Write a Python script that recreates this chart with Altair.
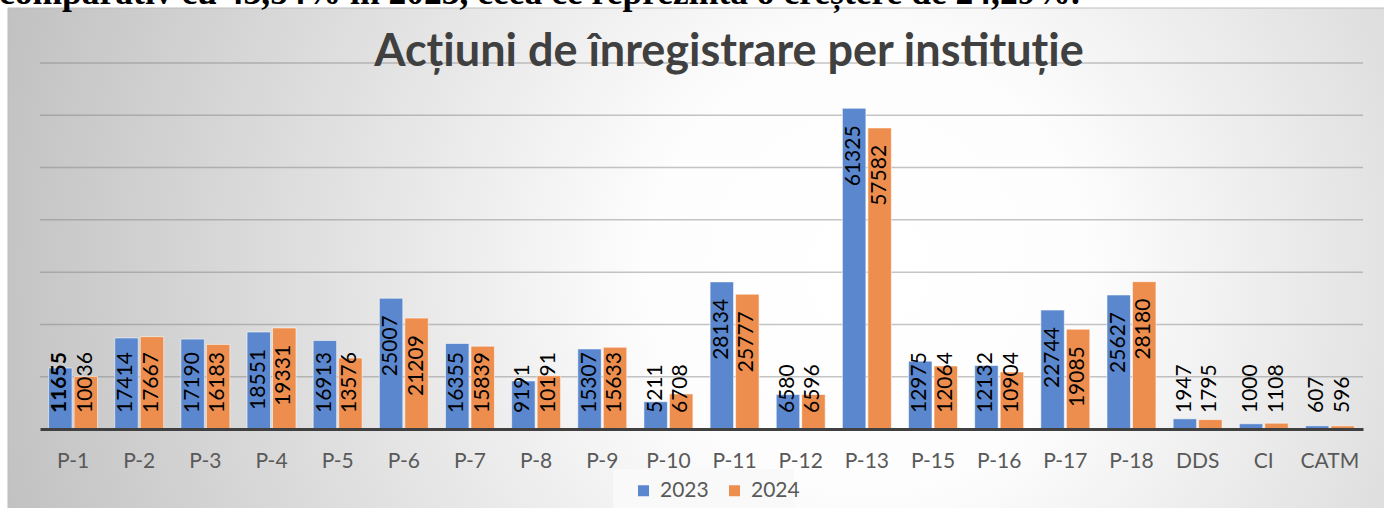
import altair as alt
import pandas as pd

# --- data ---------------------------------------------------------------
institutions = ["P-1", "P-2", "P-3", "P-4", "P-5", "P-6", "P-7", "P-8", "P-9", "P-10",
                "P-11", "P-12", "P-13", "P-15", "P-16", "P-17", "P-18", "DDS", "CI", "CATM"]
values_2023 = [11655, 17414, 17190, 18551, 16913, 25007, 16355, 9191, 15307, 5211,
               28134, 6580, 61325, 12975, 12132, 22744, 25627, 1947, 1000, 607]
values_2024 = [10036, 17667, 16183, 19331, 13576, 21209, 15839, 10191, 15633, 6708,
               25777, 6596, 57582, 12064, 10904, 19085, 28180, 1795, 1108, 596]
years = ["2023", "2024"]
bold_labels = [("P-1", "2023")]
grid_values = [10000, 20000, 30000, 40000, 50000, 60000, 70000]

TITLE = "Acțiuni de înregistrare per instituție"
LEAD_TEXT = "comparativ cu 43,54% în 2023, ceea ce reprezintă o creștere de 24,29%."

rows = []
for i, inst in enumerate(institutions):
    for year, vals in zip(years, [values_2023, values_2024]):
        rows.append({"inst": inst, "year": year, "value": vals[i],
                     "bold": (inst, year) in bold_labels})
df = pd.DataFrame(rows)
grid_df = pd.DataFrame({"v": grid_values})
one = pd.DataFrame({"k": [0]})

# --- layout -------------------------------------------------------------
W, H = 1323, 366
PAD = {"left": 40, "top": 63, "right": 21, "bottom": 79}
Y_MAX = 70000
LABEL_ROOM = 18000  # bars at least this tall hold their label inside the top end

BLUE = "#5A87CD"
ORANGE = "#EE8E4E"
FONT = "Lato"

y_scale = alt.Scale(domain=[0, Y_MAX], nice=False)
x_enc = alt.X(
    "inst:N", sort=institutions,
    scale=alt.Scale(paddingInner=0.26, paddingOuter=0.13),
    axis=alt.Axis(title=None, ticks=False, labelAngle=0, labelPadding=21,
                  labelFont=FONT, labelFontSize=21, labelColor="#595959",
                  domainColor="#404040", domainWidth=3, grid=False, zindex=1),
)
xoff = alt.XOffset("year:N", sort=years, scale=alt.Scale(paddingInner=0.08))

# chart frame with a soft radial shading
frame = alt.Chart(one).mark_rect(
    fill=alt.RadialGradient(
        gradient="radial",
        stops=[alt.GradientStop(color="#ffffff", offset=0),
               alt.GradientStop(color="#fdfdfd", offset=0.25),
               alt.GradientStop(color="#c2c2c2", offset=1)],
        x1=0.6, y1=0.5, r1=0, x2=0.6, y2=0.5, r2=0.62,
    ),
    stroke="#bdbdbd", strokeWidth=1,
).encode(x=alt.value(-32), x2=alt.value(1400), y=alt.value(-55), y2=alt.value(470))

lead = alt.Chart(one).transform_calculate(t=f"'{LEAD_TEXT}'").mark_text(
    font="Liberation Serif", fontWeight="bold", fontSize=35.5, color="black",
    align="left", baseline="alphabetic",
).encode(text="t:N", x=alt.value(-41), y=alt.value(-59))

grid = alt.Chart(grid_df).mark_rule(
    stroke="#7f7f7f", strokeOpacity=0.45, strokeWidth=1.5
).encode(y=alt.Y("v:Q", scale=y_scale, axis=None))

bars = alt.Chart(df).mark_bar(
    stroke="white", strokeOpacity=0.55, strokeWidth=1
).encode(
    x=x_enc, xOffset=xoff,
    y=alt.Y("value:Q", scale=y_scale, axis=None),
    color=alt.Color(
        "year:N", scale=alt.Scale(domain=years, range=[BLUE, ORANGE]),
        legend=alt.Legend(title=None, orient="none", legendX=593, legendY=417,
                          direction="horizontal", symbolType="square", symbolSize=121,
                          symbolStrokeWidth=0, labelFont=FONT, labelFontSize=21,
                          labelColor="#595959", columnPadding=15, padding=0,
                          labelOffset=6),
    ),
)

text_style = dict(angle=270, baseline="middle", font=FONT, fontSize=21, color="black")
value_text = alt.Text("value:Q", format="d")

labels_inside = alt.Chart(df).transform_filter(
    f"datum.value >= {LABEL_ROOM}"
).mark_text(align="right", dx=-17, **text_style).encode(
    x=x_enc, xOffset=xoff, y=alt.Y("value:Q", scale=y_scale, axis=None), text=value_text
)

labels_base = alt.Chart(df).transform_filter(
    f"datum.value < {LABEL_ROOM} && !datum.bold"
).mark_text(align="left", dx=16, **text_style).encode(
    x=x_enc, xOffset=xoff, y=alt.value(H), text=value_text
)

labels_base_bold = alt.Chart(df).transform_filter(
    f"datum.value < {LABEL_ROOM} && datum.bold"
).mark_text(align="left", dx=16, fontWeight="bold", **text_style).encode(
    x=x_enc, xOffset=xoff, y=alt.value(H), text=value_text
)

title = alt.Chart(one).transform_calculate(t=f"'{TITLE}'").mark_text(
    font=FONT, fontWeight="bold", fontSize=45, color="#404040",
    align="center", baseline="alphabetic",
).encode(text="t:N", x=alt.value(689), y=alt.value(3))

legend_box = alt.Chart(one).mark_rect(fill="#f9f9f9").encode(
    x=alt.value(573), x2=alt.value(754), y=alt.value(406), y2=alt.value(470)
)

chart = alt.layer(
    frame, lead, grid, legend_box, bars, labels_inside, labels_base, labels_base_bold, title
).properties(
    width=W, height=H, padding=PAD,
    autosize=alt.AutoSizeParams(type="none"),
).configure(background="white").configure_view(stroke="transparent")

chart.save("out.html", embed_options={"renderer": "svg", "actions": False})
